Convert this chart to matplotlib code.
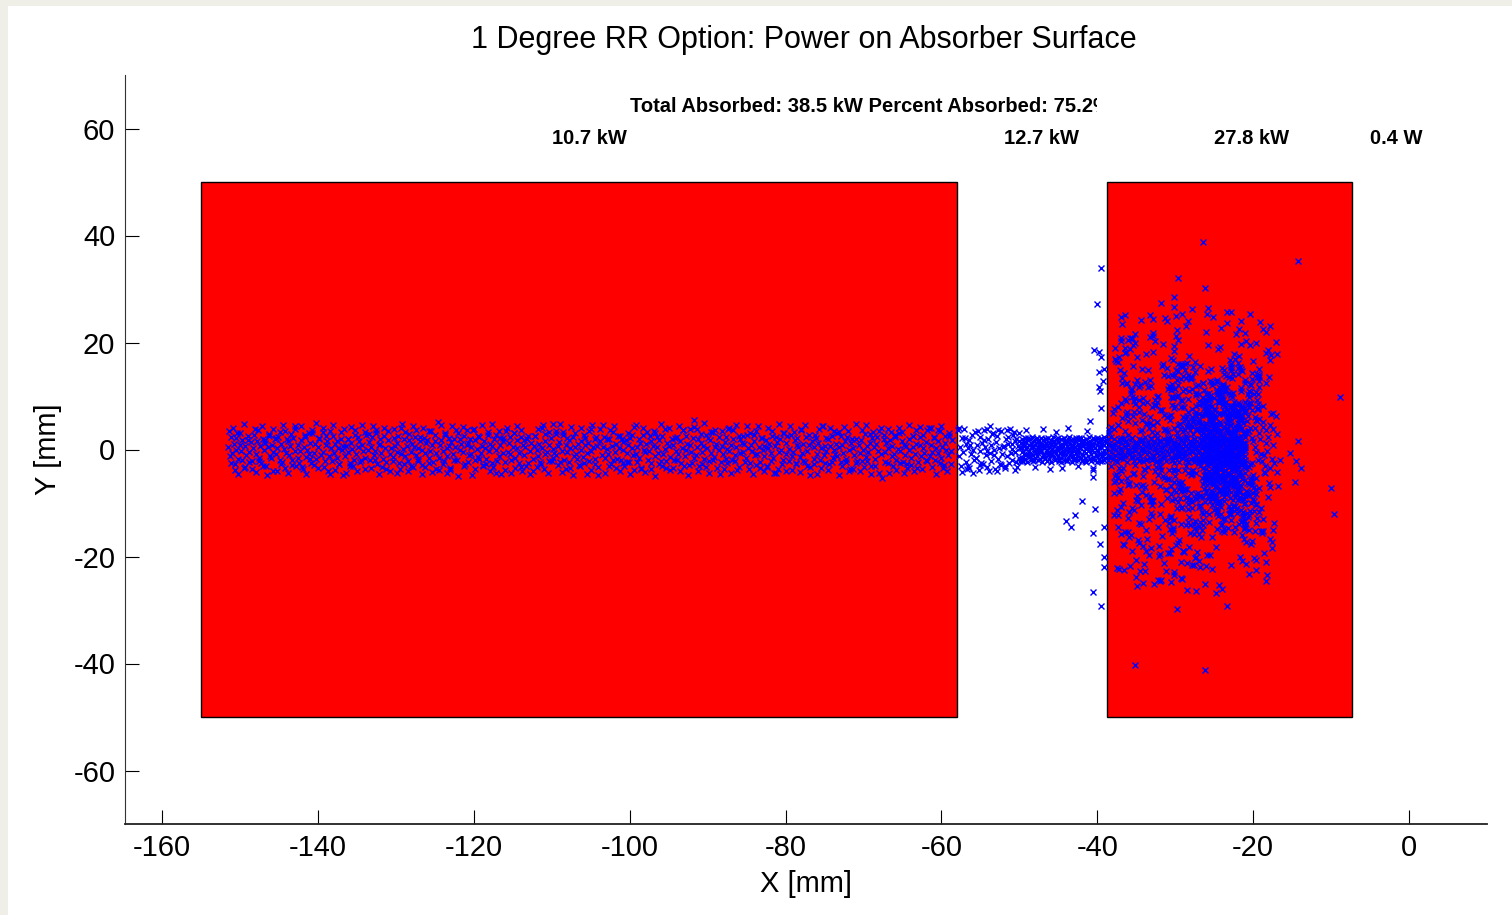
import matplotlib
matplotlib.use('Agg')
import matplotlib.pyplot as plt
from matplotlib.patches import Rectangle
from matplotlib.transforms import Bbox, TransformedBbox

plt.rcParams['font.family'] = ['Liberation Sans', 'DejaVu Sans']
plt.rcParams['axes.unicode_minus'] = False

# absorber faces (x0, x1, y0, y1) in mm
faces = [(-155.0, -58.0, -50.0, 50.0), (-38.8, -7.3, -50.0, 50.0)]

title = "1 Degree RR Option: Power on Absorber Surface"
total_text = "Total Absorbed: 38.5 kW Percent Absorbed: 75.2%"
power_labels = ["10.7 kW", "12.7 kW", "27.8 kW", "0.4 W"]
power_label_x = [-110.0, -52.0, -25.0, -5.0]

x_ticks = [-160, -140, -120, -100, -80, -60, -40, -20, 0]
y_ticks = [-60, -40, -20, 0, 20, 40, 60]

# hit points on the first face (narrow band)
band_x = [
    -151.5,-151.3,-151.2,-151.0,-150.8,-150.7,-150.5,-150.4,-150.2,-150.0,-149.9,-149.7,-149.5,-149.4,-149.2,-149.0,-148.8,-148.6,
    -148.4,-148.3,-148.1,-147.9,-147.8,-147.6,-147.4,-147.3,-147.1,-146.9,-146.8,-146.6,-146.4,-146.3,-146.1,-145.9,-145.8,-145.7,
    -145.5,-145.4,-145.2,-145.1,-144.9,-144.7,-144.6,-144.4,-144.2,-144.1,-143.8,-143.7,-143.6,-143.3,-143.2,-143.0,-142.9,-142.6,
    -142.5,-142.3,-142.2,-142.0,-141.8,-141.7,-141.5,-141.4,-141.2,-141.0,-140.9,-140.7,-140.5,-140.4,-140.2,-140.0,-139.8,-139.6,
    -139.4,-139.3,-139.1,-138.9,-138.8,-138.6,-138.4,-138.3,-138.1,-137.9,-137.8,-137.6,-137.4,-137.3,-137.1,-136.9,-136.8,-136.7,
    -136.5,-136.4,-136.2,-136.1,-135.9,-135.7,-135.6,-135.4,-135.2,-135.1,-134.8,-134.7,-134.6,-134.3,-134.2,-134.0,-133.9,-133.6,
    -133.5,-133.3,-133.2,-133.0,-132.8,-132.7,-132.5,-132.4,-132.2,-132.0,-131.9,-131.7,-131.5,-131.4,-131.2,-131.0,-130.8,-130.6,
    -130.4,-130.3,-130.1,-129.9,-129.8,-129.6,-129.4,-129.3,-129.1,-128.9,-128.8,-128.6,-128.4,-128.3,-128.1,-127.9,-127.8,-127.7,
    -127.5,-127.4,-127.2,-127.1,-126.9,-126.7,-126.6,-126.4,-126.2,-126.1,-125.8,-125.7,-125.6,-125.3,-125.2,-125.0,-124.9,-124.6,
    -124.5,-124.3,-124.2,-124.0,-123.8,-123.7,-123.5,-123.4,-123.2,-123.0,-122.9,-122.7,-122.5,-122.4,-122.2,-122.0,-121.8,-121.6,
    -121.4,-121.3,-121.1,-120.9,-120.8,-120.6,-120.4,-120.3,-120.1,-119.9,-119.8,-119.6,-119.4,-119.3,-119.1,-118.9,-118.8,-118.7,
    -118.5,-118.4,-118.2,-118.1,-117.9,-117.7,-117.6,-117.4,-117.2,-117.1,-116.8,-116.7,-116.6,-116.3,-116.2,-116.0,-115.9,-115.6,
    -115.5,-115.3,-115.2,-115.0,-114.8,-114.7,-114.5,-114.4,-114.2,-114.0,-113.9,-113.7,-113.5,-113.4,-113.2,-113.0,-112.8,-112.6,
    -112.4,-112.3,-112.1,-111.9,-111.8,-111.6,-111.4,-111.3,-111.1,-110.9,-110.8,-110.6,-110.4,-110.3,-110.1,-109.9,-109.8,-109.7,
    -109.5,-109.4,-109.2,-109.1,-108.9,-108.7,-108.6,-108.4,-108.2,-108.1,-107.8,-107.7,-107.6,-107.3,-107.2,-107.0,-106.9,-106.6,
    -106.5,-106.3,-106.2,-106.0,-105.8,-105.7,-105.5,-105.4,-105.2,-105.0,-104.9,-104.7,-104.5,-104.4,-104.2,-104.0,-103.8,-103.6,
    -103.4,-103.3,-103.1,-102.9,-102.8,-102.6,-102.4,-102.3,-102.1,-101.9,-101.8,-101.6,-101.4,-101.3,-101.1,-100.9,-100.8,-100.7,
    -100.5,-100.4,-100.2,-100.1,-99.9,-99.7,-99.6,-99.4,-99.2,-99.1,-98.8,-98.7,-98.6,-98.3,-98.2,-98.0,-97.9,-97.6,
    -97.5,-97.3,-97.2,-97.0,-96.8,-96.7,-96.5,-96.4,-96.2,-96.0,-95.9,-95.7,-95.5,-95.4,-95.2,-95.0,-94.8,-94.6,
    -94.4,-94.3,-94.1,-93.9,-93.8,-93.6,-93.4,-93.3,-93.1,-92.9,-92.8,-92.6,-92.4,-92.3,-92.1,-91.9,-91.8,-91.7,
    -91.5,-91.4,-91.2,-91.1,-90.9,-90.7,-90.6,-90.4,-90.2,-90.1,-89.8,-89.7,-89.6,-89.3,-89.2,-89.0,-88.9,-88.6,
    -88.5,-88.3,-88.2,-88.0,-87.8,-87.7,-87.5,-87.4,-87.2,-87.0,-86.9,-86.7,-86.5,-86.4,-86.2,-86.0,-85.8,-85.6,
    -85.4,-85.3,-85.1,-84.9,-84.8,-84.6,-84.4,-84.3,-84.1,-83.9,-83.8,-83.6,-83.4,-83.3,-83.1,-82.9,-82.8,-82.7,
    -82.5,-82.4,-82.2,-82.1,-81.9,-81.7,-81.6,-81.4,-81.2,-81.1,-80.8,-80.7,-80.6,-80.3,-80.2,-80.0,-79.9,-79.6,
    -79.5,-79.3,-79.2,-79.0,-78.8,-78.7,-78.5,-78.4,-78.2,-78.0,-77.9,-77.7,-77.5,-77.4,-77.2,-77.0,-76.8,-76.6,
    -76.4,-76.3,-76.1,-75.9,-75.8,-75.6,-75.4,-75.3,-75.1,-74.9,-74.8,-74.6,-74.4,-74.3,-74.1,-73.9,-73.8,-73.7,
    -73.5,-73.4,-73.2,-73.1,-72.9,-72.7,-72.6,-72.4,-72.2,-72.1,-71.8,-71.7,-71.6,-71.3,-71.2,-71.0,-70.9,-70.6,
    -70.5,-70.3,-70.2,-70.0,-69.8,-69.7,-69.5,-69.4,-69.2,-69.0,-68.9,-68.7,-68.5,-68.4,-68.2,-68.0,-67.8,-67.6,
    -67.4,-67.3,-67.1,-66.9,-66.8,-66.6,-66.4,-66.3,-66.1,-65.9,-65.8,-65.6,-65.4,-65.3,-65.1,-64.9,-64.8,-64.7,
    -64.5,-64.4,-64.2,-64.1,-63.9,-63.7,-63.6,-63.4,-63.2,-63.1,-62.8,-62.7,-62.6,-62.3,-62.2,-62.0,-61.9,-61.6,
    -61.5,-61.3,-61.2,-61.0,-60.8,-60.7,-60.5,-60.4,-60.2,-60.0,-59.9,-59.7,-59.5,-59.4,-59.2,-59.0,-58.8,-58.6,
]
band_y = [
    0.4,-1.2,2.3,-0.6,1.1,-2.8,0.0,3.1,-1.7,0.9,-0.2,1.8,-3.4,0.6,-1.0,2.6,-0.4,1.4,
    -2.1,0.2,3.8,-0.9,1.6,-1.5,0.7,-2.6,2.0,-0.1,1.2,-3.0,0.5,2.9,-1.3,0.8,-0.5,-4.1,
    1.9,-0.8,0.3,2.4,-1.9,1.0,-2.3,0.1,3.5,-0.7,1.5,-1.1,0.6,-2.9,2.2,-0.3,4.3,-1.6,
    0.9,-0.2,1.7,-3.3,0.4,2.7,-1.4,0.0,-0.9,1.3,-2.5,3.0,-0.6,1.1,-1.8,0.5,2.1,-1.0,
    -0.4,3.3,-2.2,0.8,1.5,-1.2,-4.6,0.2,2.5,-0.7,1.0,-1.6,0.3,-2.7,1.9,-0.1,0.7,3.9,
    -1.3,0.6,2.0,-0.5,-3.1,1.2,0.1,-1.9,2.8,-0.8,0.4,1.6,-2.4,0.9,-0.3,3.2,-1.5,0.0,
    1.4,-2.0,0.5,2.3,-1.1,-0.2,3.6,-2.8,0.8,1.1,-0.6,-1.7,2.6,0.3,-3.6,1.8,-0.9,0.2,
    -1.4,2.2,0.7,-0.4,1.3,-2.6,4.0,-0.8,0.1,1.9,-1.2,0.6,-2.1,2.9,-0.5,1.0,-3.2,0.4,
    2.4,-1.0,0.3,-1.8,1.6,0.0,-2.9,2.1,-0.6,1.2,-1.5,3.4,-0.2,0.9,-2.4,1.5,-0.7,5.1,
    -1.6,0.8,1.7,-0.3,-2.2,2.7,0.2,-1.3,0.6,-3.8,1.4,-0.9,2.0,0.5,-1.9,3.1,-0.1,1.1,
    -0.5,2.5,-2.7,0.9,1.3,-1.1,0.4,-0.8,3.7,-2.0,1.8,0.1,-1.4,2.3,-0.6,0.7,-3.0,1.6,
    0.3,-1.7,2.8,-0.2,1.0,-2.5,0.6,1.9,-4.4,0.0,-1.2,2.2,0.8,-0.7,1.5,-2.3,3.5,-0.4,
    1.2,-0.9,-2.0,0.5,3.0,-1.5,0.2,1.7,-0.6,-3.3,2.4,0.9,-1.0,0.4,2.0,-2.6,-0.3,1.3,
    -1.8,0.7,2.6,-0.1,-1.3,1.1,-2.8,0.3,4.6,-0.9,1.6,-0.4,0.8,-2.1,2.1,-1.6,0.1,-0.7,
    2.9,-1.1,0.6,1.4,-2.4,-0.2,3.3,-1.9,0.9,-0.5,1.8,-3.5,0.2,2.4,-1.2,0.5,-0.8,1.0,
    -2.9,1.5,0.0,-1.4,2.7,0.8,-0.6,1.2,-2.2,3.8,-0.3,0.4,-1.7,2.0,0.7,-4.8,1.6,-1.0,
    0.5,2.3,-1.5,0.1,-0.9,1.9,-2.7,0.6,3.2,-0.4,1.1,-1.8,0.3,2.6,-2.0,-0.1,1.4,-3.1,
    1.7,-0.6,0.9,-2.3,2.2,0.2,-1.1,4.2,-0.8,0.5,-1.6,1.3,-3.7,2.8,0.0,-0.5,1.0,-1.9,
    -0.2,1.6,-2.6,0.7,3.1,-1.3,0.4,-0.7,1.8,-2.1,2.5,-0.9,0.1,-3.4,1.2,0.6,-1.4,2.0,
    0.8,-1.9,-0.3,2.4,-0.8,1.5,-2.5,0.3,3.6,-1.2,0.0,1.1,-2.9,0.9,-0.4,2.1,-1.6,5.6,
    -1.0,0.4,2.0,-3.0,1.3,-0.5,0.7,-1.8,2.7,0.2,-2.2,1.7,-0.6,3.3,-1.4,0.5,1.0,-0.1,
    2.3,-2.4,0.6,-0.9,1.4,-1.7,0.1,3.9,-0.3,0.8,-2.0,1.9,-1.1,0.4,-3.9,2.6,-0.7,1.2,
    -0.4,1.0,-1.5,2.8,0.3,-2.6,0.9,-0.2,1.6,-1.0,3.4,-0.8,0.5,-2.3,2.2,-0.1,-1.3,0.7,
    1.8,-3.2,0.2,1.1,-0.7,2.5,-1.6,0.6,-4.3,1.4,-0.4,2.0,0.0,-1.9,3.0,-0.9,1.3,-2.1,
    0.1,2.7,-1.2,-0.5,1.7,-2.8,0.8,0.4,-1.4,3.7,-0.6,1.0,-2.4,2.3,-0.2,0.9,-3.3,1.5,
    -1.7,0.5,2.1,-0.8,1.2,-2.0,0.2,4.4,-1.1,0.7,-0.3,1.9,-2.7,0.6,2.6,-1.5,0.0,-0.9,
    1.1,-1.3,0.4,3.2,-2.3,0.9,-0.6,1.6,-1.8,2.4,-0.1,-3.6,1.3,0.3,-1.0,2.0,-2.5,0.8,
    -0.7,1.8,-2.2,0.0,2.9,-1.4,0.6,-0.4,1.2,-3.1,2.2,0.5,-1.7,1.0,-0.2,3.5,-0.9,-5.3,
    2.0,-0.5,1.3,-2.6,0.3,1.7,-1.2,0.7,-0.8,2.8,-1.9,0.1,3.0,-0.3,1.5,-2.4,0.9,-1.1,
    0.6,-2.8,1.9,-0.1,-1.5,2.6,0.4,-0.9,1.1,-3.5,0.8,2.3,-1.3,0.2,-0.6,1.4,-2.1,4.1,
    -1.2,0.9,-0.4,2.2,-2.0,0.3,1.6,-0.7,3.4,-1.6,0.5,-2.9,1.2,0.0,-1.0,2.5,-0.3,1.7,
]

# outer fringe of the same band
band_edge_x = [
    -151.4,-151.2,-150.9,-150.7,-150.5,-150.2,-150.0,-149.8,-149.5,-149.3,-149.0,-148.8,
    -148.4,-148.2,-147.9,-147.7,-147.5,-147.2,-147.0,-146.8,-146.5,-146.3,-146.0,-145.8,
    -145.4,-145.2,-144.9,-144.7,-144.5,-144.2,-144.0,-143.8,-143.5,-143.3,-143.0,-142.8,
    -142.4,-142.2,-141.9,-141.7,-141.5,-141.2,-141.0,-140.8,-140.5,-140.3,-140.0,-139.8,
    -139.4,-139.2,-138.9,-138.7,-138.5,-138.2,-138.0,-137.8,-137.5,-137.3,-137.0,-136.8,
    -136.4,-136.2,-135.9,-135.7,-135.5,-135.2,-135.0,-134.8,-134.5,-134.3,-134.0,-133.8,
    -133.4,-133.2,-132.9,-132.7,-132.5,-132.2,-132.0,-131.8,-131.5,-131.3,-131.0,-130.8,
    -130.4,-130.2,-129.9,-129.7,-129.5,-129.2,-129.0,-128.8,-128.5,-128.3,-128.0,-127.8,
    -127.4,-127.2,-126.9,-126.7,-126.5,-126.2,-126.0,-125.8,-125.5,-125.3,-125.0,-124.8,
    -124.4,-124.2,-123.9,-123.7,-123.5,-123.2,-123.0,-122.8,-122.5,-122.3,-122.0,-121.8,
    -121.4,-121.2,-120.9,-120.7,-120.5,-120.2,-120.0,-119.8,-119.5,-119.3,-119.0,-118.8,
    -118.4,-118.2,-117.9,-117.7,-117.5,-117.2,-117.0,-116.8,-116.5,-116.3,-116.0,-115.8,
    -115.4,-115.2,-114.9,-114.7,-114.5,-114.2,-114.0,-113.8,-113.5,-113.3,-113.0,-112.8,
    -112.4,-112.2,-111.9,-111.7,-111.5,-111.2,-111.0,-110.8,-110.5,-110.3,-110.0,-109.8,
    -109.4,-109.2,-108.9,-108.7,-108.5,-108.2,-108.0,-107.8,-107.5,-107.3,-107.0,-106.8,
    -106.4,-106.2,-105.9,-105.7,-105.5,-105.2,-105.0,-104.8,-104.5,-104.3,-104.0,-103.8,
    -103.4,-103.2,-102.9,-102.7,-102.5,-102.2,-102.0,-101.8,-101.5,-101.3,-101.0,-100.8,
    -100.4,-100.2,-99.9,-99.7,-99.5,-99.2,-99.0,-98.8,-98.5,-98.3,-98.0,-97.8,
    -97.4,-97.2,-96.9,-96.7,-96.5,-96.2,-96.0,-95.8,-95.5,-95.3,-95.0,-94.8,
    -94.4,-94.2,-93.9,-93.7,-93.5,-93.2,-93.0,-92.8,-92.5,-92.3,-92.0,-91.8,
    -91.4,-91.2,-90.9,-90.7,-90.5,-90.2,-90.0,-89.8,-89.5,-89.3,-89.0,-88.8,
    -88.4,-88.2,-87.9,-87.7,-87.5,-87.2,-87.0,-86.8,-86.5,-86.3,-86.0,-85.8,
    -85.4,-85.2,-84.9,-84.7,-84.5,-84.2,-84.0,-83.8,-83.5,-83.3,-83.0,-82.8,
    -82.4,-82.2,-81.9,-81.7,-81.5,-81.2,-81.0,-80.8,-80.5,-80.3,-80.0,-79.8,
    -79.4,-79.2,-78.9,-78.7,-78.5,-78.2,-78.0,-77.8,-77.5,-77.3,-77.0,-76.8,
    -76.4,-76.2,-75.9,-75.7,-75.5,-75.2,-75.0,-74.8,-74.5,-74.3,-74.0,-73.8,
    -73.4,-73.2,-72.9,-72.7,-72.5,-72.2,-72.0,-71.8,-71.5,-71.3,-71.0,-70.8,
    -70.4,-70.2,-69.9,-69.7,-69.5,-69.2,-69.0,-68.8,-68.5,-68.3,-68.0,-67.8,
    -67.4,-67.2,-66.9,-66.7,-66.5,-66.2,-66.0,-65.8,-65.5,-65.3,-65.0,-64.8,
    -64.4,-64.2,-63.9,-63.7,-63.5,-63.2,-63.0,-62.8,-62.5,-62.3,-62.0,-61.8,
    -61.4,-61.2,-60.9,-60.7,-60.5,-60.2,-60.0,-59.8,-59.5,-59.3,-59.0,-58.8,
]
band_edge_y = [
    3.4,-2.6,4.1,-3.9,2.2,-4.5,3.0,-1.9,4.7,-3.2,1.7,-2.4,
    -3.6,2.8,-4.2,3.7,-2.1,4.4,-3.0,1.8,-4.8,2.5,-1.6,3.9,
    2.1,-4.0,3.3,-2.7,4.6,-3.4,1.9,-4.4,2.9,-2.0,3.8,-3.1,
    -2.5,4.3,-3.7,2.4,-4.6,3.1,-1.8,3.6,-2.9,4.9,-3.5,2.0,
    4.0,-3.3,2.6,-4.1,3.5,-2.2,4.5,-3.8,1.6,-2.8,3.2,-4.7,
    -4.3,1.9,-2.5,4.2,-3.1,3.6,-4.0,2.3,-1.9,4.6,-3.6,2.7,
    2.9,-3.5,4.4,-2.0,3.1,-4.6,2.0,-3.3,4.0,-2.4,3.5,-4.1,
    -2.2,3.8,-4.4,2.6,-3.6,4.7,-2.8,3.3,-4.0,1.8,-3.0,4.3,
    3.7,-2.1,2.4,-4.5,4.1,-3.2,1.7,-2.6,3.4,-4.2,2.8,-3.7,
    -3.9,4.6,-2.7,3.0,-4.3,2.2,-3.4,4.3,-2.0,3.6,-4.9,1.9,
    4.2,-3.0,3.6,-2.3,2.0,-4.8,3.9,-3.6,2.5,-1.8,4.5,-2.9,
    -2.8,3.2,-4.0,4.8,-3.3,2.7,-2.2,3.5,-4.6,2.1,-3.8,4.0,
    2.3,-4.3,3.1,-3.5,4.4,-2.5,3.7,-4.0,1.8,-3.1,2.6,-4.5,
    -4.1,2.5,-3.2,3.9,-2.4,4.1,-3.7,2.9,-4.4,3.3,-2.1,4.7,
    3.5,-2.9,4.8,-4.2,2.7,-3.6,2.2,-2.3,4.2,-4.7,3.0,-1.7,
    -3.0,4.0,-2.6,2.1,-4.5,3.4,-3.9,4.6,-2.7,2.4,-3.3,3.8,
    4.6,-4.4,2.0,-3.1,3.7,-2.0,4.3,-3.5,2.6,-4.1,1.9,-2.6,
    -2.4,3.1,-4.6,2.8,-3.8,4.5,-2.3,2.0,-3.4,4.1,-4.2,3.3,
    2.6,-3.7,3.4,-4.9,2.3,-2.7,4.7,-3.0,3.8,-2.2,4.0,-3.9,
    -3.5,2.2,-2.0,4.4,-4.0,3.6,-3.1,2.5,-4.7,3.9,-2.5,4.2,
    3.9,-4.1,2.9,-2.8,4.9,-3.3,2.1,-4.4,3.2,-1.9,3.6,-3.4,
    -4.6,3.5,-3.6,2.3,-2.6,4.0,-4.3,3.7,-2.1,4.5,-3.2,2.0,
    2.5,-2.4,4.3,-3.7,3.0,-4.6,2.7,-2.9,4.4,-3.5,2.2,-4.0,
    -3.1,4.1,-2.2,3.4,-4.4,2.4,-3.6,4.8,-2.8,3.1,-4.1,2.6,
    4.4,-3.8,3.2,-2.5,2.1,-4.2,3.9,-2.1,4.6,-3.0,2.8,-4.8,
    -2.7,2.7,-4.5,3.8,-3.4,4.3,-2.5,2.2,-3.9,4.0,-2.3,3.4,
    3.1,-4.7,2.6,-3.0,4.2,-2.3,3.5,-4.1,2.0,-3.6,4.7,-2.2,
    -4.0,3.6,-3.3,4.6,-2.2,2.9,-4.5,3.2,-3.0,2.3,-4.3,4.1,
    2.8,-2.3,3.8,-4.3,3.3,-3.1,2.4,-3.8,4.1,-2.6,3.3,-4.4,
    -3.4,4.5,-2.9,2.6,-4.1,3.7,-2.4,4.2,-3.7,2.7,-2.0,3.6,
    4.1,-3.2,2.3,-4.6,3.6,-2.6,4.4,-3.4,2.5,-4.0,3.1,-2.7,
]

# loose part of the beam between the faces
gap_loose_x = [
    -57.9,-57.8,-57.6,-57.5,-57.3,-57.2,-57.1,-56.9,-56.8,-56.6,
    -56.5,-56.4,-56.2,-56.1,-55.9,-55.8,-55.7,-55.5,-55.4,-55.2,
    -55.1,-55.0,-54.8,-54.7,-54.5,-54.4,-54.3,-54.1,-54.0,-53.8,
    -53.7,-53.6,-53.4,-53.3,-53.1,-53.0,-52.9,-52.7,-52.6,-52.4,
    -52.3,-52.2,-52.0,-51.9,-51.7,-51.6,-51.5,-51.3,-51.2,-51.0,
    -50.9,-50.8,-50.6,-50.5,-50.3,-50.2,-50.1,-49.9,-49.8,-57.4,
    -57.0,-56.7,-56.3,-55.6,-55.3,-54.9,-54.6,-54.2,-53.9,-53.5,
    -53.2,-52.8,-52.5,-52.1,-51.8,-51.4,-51.1,-50.7,-50.4,-50.0,
    -57.7,-56.0,-54.2,-52.9,-51.6,-50.6,-55.0,-53.8,-56.6,-49.9,
]
gap_loose_y = [
    3.6,-1.2,0.4,-3.1,2.1,-0.5,3.9,1.0,-2.4,0.2,
    -3.5,1.7,-0.8,2.8,0.0,-2.0,3.3,-1.5,0.9,-3.8,
    2.4,-0.3,1.2,-2.7,3.7,0.5,-1.0,-3.3,1.9,-0.6,
    0.8,-2.2,3.1,-0.1,-3.6,1.4,2.6,-1.7,0.3,-2.9,
    3.4,-0.9,0.6,-3.0,2.0,-1.3,1.1,-2.5,3.8,0.1,
    -1.9,2.7,-0.4,1.5,-3.2,0.7,3.0,-2.1,1.3,-4.2,
    2.2,-3.7,0.9,-1.6,3.5,-2.6,1.8,-0.2,-4.0,2.9,
    -1.1,3.6,-2.8,0.4,-3.4,2.3,-0.7,3.2,-2.3,1.6,
    4.1,-4.4,3.8,-4.1,3.6,-3.9,-2.9,4.3,-3.1,0.5,
]

# dense part of the beam just before the second face
gap_dense_x = [
    -49.7,-49.7,-49.6,-49.6,-49.5,-49.5,-49.4,-49.4,-49.3,-49.3,-49.2,-49.1,-49.1,-49.0,-49.0,-48.9,-48.8,-48.8,-48.7,-48.6,
    -48.6,-48.5,-48.5,-48.4,-48.4,-48.3,-48.3,-48.2,-48.1,-48.1,-48.0,-48.0,-47.9,-47.9,-47.8,-47.7,-47.7,-47.6,-47.6,-47.5,
    -47.5,-47.4,-47.4,-47.3,-47.2,-47.2,-47.1,-47.1,-47.0,-47.0,-46.9,-46.8,-46.8,-46.7,-46.7,-46.6,-46.6,-46.5,-46.4,-46.4,
    -46.3,-46.3,-46.2,-46.2,-46.1,-46.0,-46.0,-45.9,-45.9,-45.8,-45.8,-45.7,-45.6,-45.6,-45.5,-45.5,-45.4,-45.4,-45.3,-45.2,
    -45.2,-45.1,-45.1,-45.0,-45.0,-44.9,-44.8,-44.8,-44.7,-44.7,-44.6,-44.6,-44.5,-44.4,-44.4,-44.3,-44.3,-44.2,-44.2,-44.1,
    -44.0,-44.0,-43.9,-43.9,-43.8,-43.8,-43.7,-43.6,-43.6,-43.5,-43.5,-43.4,-43.4,-43.3,-43.2,-43.2,-43.1,-43.1,-43.0,-43.0,
    -42.9,-42.8,-42.8,-42.7,-42.7,-42.6,-42.6,-42.5,-42.4,-42.4,-42.3,-42.3,-42.2,-42.2,-42.1,-42.0,-42.0,-41.9,-41.9,-41.8,
    -41.8,-41.7,-41.6,-41.6,-41.5,-41.5,-41.4,-41.4,-41.3,-41.2,-41.2,-41.1,-41.1,-41.0,-41.0,-40.9,-40.8,-40.8,-40.7,-40.7,
    -40.6,-40.6,-40.5,-40.4,-40.4,-40.3,-40.3,-40.2,-40.2,-40.1,-40.0,-40.0,-39.9,-39.9,-39.8,-39.8,-39.7,-39.6,-39.6,-39.5,
    -39.5,-39.4,-39.4,-39.3,-39.2,-39.2,-39.1,-39.1,-39.0,-39.0,-49.2,-48.0,-47.0,-46.1,-45.3,-44.5,-43.7,-42.5,-41.3,-40.5,
]
gap_dense_y = [
    0.3,-1.5,1.9,-0.4,1.1,-2.1,0.7,-0.9,2.2,-1.8,0.1,1.4,-1.1,0.5,-2.3,1.7,-0.2,0.9,-1.4,2.0,
    -0.6,1.2,-1.9,0.2,2.3,-1.0,0.6,-2.2,1.5,-0.3,0.8,-1.6,1.9,-0.7,0.0,2.1,-1.3,0.4,-2.0,1.0,
    1.6,-0.5,0.3,-1.7,2.2,-0.1,1.0,-2.4,0.6,1.8,-1.2,0.2,-0.8,2.0,-1.5,0.7,1.3,-2.1,0.0,-0.6,
    -1.0,2.1,0.4,-1.8,1.2,-0.3,-2.3,0.8,1.7,-0.9,0.1,2.3,-1.4,0.6,-0.2,1.5,-2.0,1.0,-0.7,0.3,
    2.0,-1.3,0.5,-0.1,1.4,-2.2,0.9,-0.6,1.9,-1.6,0.2,-2.4,1.1,0.7,-1.0,2.2,-0.4,1.6,-1.9,0.0,
    -0.8,1.3,-2.1,0.6,1.9,-0.2,-1.5,2.3,0.3,-1.1,1.0,-0.5,1.7,-2.3,0.4,0.9,-1.7,2.0,-0.3,1.2,
    0.5,-1.9,1.5,-0.6,2.2,-1.2,0.1,-2.0,1.1,0.7,-0.4,1.8,-1.5,0.2,2.1,-0.8,-2.2,1.4,0.6,-1.0,
    1.8,-0.2,-1.6,1.0,0.3,-2.3,2.0,-0.7,1.3,-1.3,0.8,-0.1,2.3,-1.8,0.4,1.6,-0.9,-2.1,1.1,0.0,
    -1.4,0.7,2.1,-0.5,1.2,-1.9,0.2,1.7,-1.0,-2.4,0.9,2.2,-0.3,1.4,-1.7,0.5,-0.8,2.0,-2.2,1.0,
    0.4,-1.2,1.9,-0.6,2.3,-2.0,0.8,-0.1,1.5,-1.6,3.6,-3.3,3.9,-3.7,3.2,-3.5,4.1,-3.0,3.4,-3.9,
]

# extra hits in the narrow core from the gap to the spot
core_band_x = [
    -50.9,-50.6,-50.4,-50.1,-49.9,-49.6,-49.4,-49.1,-48.9,-48.6,-48.4,-48.1,-47.9,-47.6,-47.4,-47.1,-46.9,-46.6,-46.4,-46.1,
    -45.9,-45.6,-45.4,-45.1,-44.9,-44.6,-44.4,-44.1,-43.9,-43.6,-43.4,-43.1,-42.9,-42.6,-42.4,-42.1,-41.9,-41.6,-41.4,-41.1,
    -40.9,-40.6,-40.4,-40.1,-39.9,-39.6,-39.4,-39.1,-38.9,-38.6,-38.4,-38.1,-37.9,-37.6,-37.4,-37.1,-36.9,-36.6,-36.4,-36.1,
    -35.9,-35.6,-35.4,-35.1,-34.9,-34.6,-34.4,-34.1,-33.9,-33.6,-33.4,-33.1,-32.9,-32.6,-32.4,-32.1,-31.9,-31.6,-31.4,-31.1,
    -30.9,-30.6,-30.4,-30.1,-29.9,-29.6,-29.4,-29.1,-28.9,-28.6,-28.4,-28.1,-27.9,-27.6,-27.4,-27.1,-26.9,-26.6,-26.4,-26.1,
    -25.9,-25.6,-25.4,-25.1,-24.9,-24.6,-24.4,-24.1,-23.9,-23.6,-23.4,-23.1,-22.9,-22.6,-22.4,-22.1,-21.9,-21.6,-21.4,-21.1,
]
core_band_y = [
    1.1,-0.5,1.9,-1.6,0.2,-2.1,1.4,-0.9,2.2,-1.2,0.6,-1.9,0.0,1.7,-0.3,-1.4,0.9,2.0,-2.2,0.4,
    -1.0,1.5,-0.2,2.1,-1.8,0.7,-0.7,1.2,-2.0,0.3,1.8,-1.3,0.5,-0.4,2.2,-1.6,1.0,-2.1,0.1,1.3,
    0.6,-1.7,2.0,-0.1,-1.1,1.6,-2.2,0.8,-0.6,1.9,-1.5,0.2,1.1,-2.0,0.4,-0.8,2.1,-1.2,1.4,-0.3,
    -0.9,2.2,-1.4,0.5,1.2,-2.1,0.0,1.7,-0.5,-1.8,0.9,2.0,-1.0,0.3,-2.2,1.5,-0.2,0.7,-1.6,1.8,
    1.6,-0.1,-2.0,1.0,0.4,-1.3,2.2,-0.7,1.3,-1.9,0.1,0.9,-0.4,2.0,-1.1,0.6,-2.1,1.7,-0.8,0.2,
    -1.5,0.8,1.4,-2.2,0.0,1.9,-0.6,-1.0,2.1,-1.7,0.5,1.2,-0.3,-1.4,1.6,-2.0,0.9,0.3,-0.9,1.1,
]

# scattered hits along the front edge of the second face
edge_x = [-39.5,-40.0,-40.4,-39.8,-39.5,-39.8,-39.2,-39.3,-39.8,-39.7,-39.5,-40.9,-40.5,-40.6,
          -42.0,-40.3,-42.8,-44.0,-43.4,-40.6,-39.2,-39.6,-39.2,-39.1,-40.6,-39.5]
edge_y = [33.9,27.2,18.6,18.3,17.3,14.5,15.0,12.8,11.7,11.0,7.8,5.3,-3.5,-5.1,
          -9.6,-11.1,-12.3,-13.3,-14.5,-15.6,-14.5,-17.7,-20.0,-21.9,-26.6,-29.3]

# horizontal core on the second face
face2_band_x = [
    -38.9,-38.8,-38.7,-38.6,-38.5,-38.4,-38.3,-38.2,-38.1,-38.0,-37.9,-37.8,-37.7,-37.6,-37.5,-37.4,-37.3,-37.2,-37.1,-37.0,
    -36.9,-36.8,-36.7,-36.6,-36.5,-36.4,-36.3,-36.2,-36.1,-36.0,-35.9,-35.8,-35.7,-35.6,-35.5,-35.4,-35.3,-35.2,-35.1,-35.0,
    -34.9,-34.8,-34.7,-34.6,-34.5,-34.4,-34.3,-34.2,-34.1,-34.0,-33.9,-33.8,-33.7,-33.6,-33.5,-33.4,-33.3,-33.2,-33.1,-33.0,
    -32.9,-32.8,-32.7,-32.6,-32.5,-32.4,-32.3,-32.2,-32.1,-32.0,-31.9,-31.8,-31.7,-31.6,-31.5,-31.4,-31.3,-31.2,-31.1,-31.0,
    -30.9,-30.8,-30.7,-30.6,-30.5,-30.4,-30.3,-30.2,-30.1,-30.0,-29.9,-29.8,-29.7,-29.6,-29.5,-29.4,-29.3,-29.2,-29.1,-29.0,
    -28.9,-28.8,-28.7,-28.6,-28.5,-28.4,-28.3,-28.2,-28.1,-28.0,-27.9,-27.8,-27.7,-27.6,-27.5,-27.4,-27.3,-27.2,-27.1,-27.0,
    -26.9,-26.8,-26.7,-26.6,-26.5,-26.4,-26.3,-26.2,-26.1,-26.0,-25.9,-25.8,-25.7,-25.6,-25.5,-25.4,-25.3,-25.2,-25.1,-25.0,
    -24.9,-24.8,-24.7,-24.6,-24.5,-24.4,-24.3,-24.2,-24.1,-24.0,-23.9,-23.8,-23.7,-23.6,-23.5,-23.4,-23.3,-23.2,-23.1,-23.0,
    -22.9,-22.8,-22.7,-22.6,-22.5,-22.4,-22.3,-22.2,-22.1,-22.0,-21.9,-21.8,-21.7,-21.6,-21.5,-21.4,-21.3,-21.2,-21.1,-21.0,
    -38.5,-37.2,-36.0,-35.1,-34.3,-33.5,-32.6,-31.8,-30.9,-30.2,-29.4,-28.6,-27.7,-26.5,-25.4,-24.6,-23.5,-22.3,-21.2,-20.4,
]
face2_band_y = [
    -0.7,1.6,0.2,-2.0,1.1,-1.3,2.3,-0.4,0.8,-1.8,0.5,2.0,-1.1,0.0,-2.3,1.4,-0.6,1.9,-1.5,0.3,
    1.2,-0.2,-1.7,2.2,0.6,-1.0,1.5,-2.4,0.1,0.9,-0.8,1.8,-1.4,2.1,-0.5,0.4,-2.1,1.3,-0.3,0.7,
    -1.6,0.9,2.0,-0.6,-1.2,1.7,0.3,-2.2,1.0,-0.1,2.3,-1.9,0.6,-0.9,1.4,-0.4,0.2,-1.5,2.1,-2.0,
    0.8,-1.4,1.3,0.0,-2.3,2.2,-0.7,1.0,-1.1,0.5,-1.8,1.6,0.2,-0.5,2.0,-1.3,0.9,-2.1,1.2,-0.2,
    2.1,-0.9,0.4,-1.6,1.8,-0.3,-2.0,0.7,1.4,-1.2,0.1,2.3,-0.6,1.1,-2.4,0.5,1.7,-0.8,-1.5,0.3,
    -0.4,1.9,-1.3,0.6,2.2,-2.1,0.2,-0.7,1.5,-1.7,0.9,-0.1,1.2,-2.3,2.0,-1.0,0.4,1.6,-0.5,-1.9,
    1.0,-2.2,0.3,1.7,-0.8,2.1,-1.5,0.0,-0.4,1.3,-1.9,0.6,2.3,-1.1,0.8,-0.2,-2.0,1.5,0.2,-1.4,
    -1.2,0.5,2.2,-0.3,1.1,-1.8,0.7,-2.4,1.9,-0.6,0.1,1.4,-1.0,2.0,-1.6,0.4,-0.1,1.8,-2.2,0.9,
    0.6,-1.6,1.5,-0.5,-2.1,2.0,0.2,-1.0,1.2,-0.2,2.3,-1.4,0.8,-0.8,1.7,-2.3,0.0,1.0,-1.2,0.5,
    3.1,-3.4,2.8,-2.9,3.6,-3.2,2.7,-3.8,3.3,-2.6,3.9,-3.0,2.9,-3.5,3.4,-2.8,3.7,-3.1,3.0,-2.7,
]

# elongated spot core on the second face
core_x = [
    -24.3,-26.1,-22.7,-25.4,-23.1,-27.2,-21.8,-24.9,-26.6,-22.2,-25.8,-23.6,-21.3,-27.7,-24.0,-22.9,-26.3,-25.0,-23.4,-21.6,
    -25.6,-22.4,-24.7,-27.0,-23.3,-21.1,-26.8,-24.4,-22.0,-25.2,-23.8,-27.5,-21.9,-24.1,-26.0,-22.6,-25.5,-23.0,-28.1,-24.6,
    -23.5,-26.4,-21.4,-25.1,-22.8,-27.3,-24.2,-21.7,-25.9,-23.2,-26.9,-22.3,-24.8,-20.9,-25.3,-23.7,-27.8,-22.1,-24.5,-26.2,
    -22.5,-25.7,-24.0,-21.2,-26.5,-23.9,-27.1,-22.9,-24.6,-20.7,-25.0,-23.4,-26.7,-21.5,-24.3,-22.2,-25.6,-28.3,-23.6,-21.0,
    -24.8,-21.9,-26.0,-23.0,-25.3,-22.6,-27.4,-24.1,-21.3,-25.9,-23.8,-22.0,-26.6,-24.5,-21.7,-25.1,-23.3,-27.9,-22.7,-24.9,
    -26.3,-23.1,-21.6,-25.5,-24.2,-22.4,-27.0,-23.7,-20.8,-25.8,-24.7,-22.1,-26.1,-23.5,-21.4,-25.2,-24.0,-22.8,-27.6,-23.9,
    -23.2,-25.4,-22.0,-24.6,-26.8,-21.8,-24.3,-23.0,-25.7,-22.5,-27.2,-24.0,-21.1,-25.0,-23.6,-26.4,-22.3,-24.8,-21.5,-25.9,
    -24.4,-22.9,-26.2,-23.4,-21.7,-25.6,-24.1,-22.6,-27.5,-23.8,-21.2,-25.3,-24.7,-22.2,-26.5,-23.1,-21.9,-25.0,-24.5,-22.8,
    -25.1,-23.5,-21.4,-24.9,-26.7,-22.7,-24.2,-23.3,-25.8,-21.0,-26.0,-24.6,-22.4,-25.4,-23.9,-21.6,-27.3,-24.0,-22.1,-25.7,
    -23.7,-26.1,-22.5,-24.3,-25.5,-21.8,-23.0,-27.0,-24.8,-22.0,-25.2,-23.6,-26.6,-21.3,-24.5,-22.9,-25.9,-23.2,-21.7,-24.1,
    -22.3,-24.7,-26.4,-23.4,-21.1,-25.0,-24.0,-22.6,-27.1,-23.8,-25.6,-21.5,-24.4,-22.8,-26.2,-23.1,-24.9,-21.9,-25.3,-23.5,
    -24.6,-22.1,-25.7,-23.3,-26.9,-21.6,-24.2,-23.9,-22.4,-25.1,-27.4,-23.0,-21.2,-24.8,-26.0,-22.7,-25.4,-23.7,-21.8,-24.3,
    -25.9,-23.6,-22.2,-24.5,-21.4,-26.3,-23.2,-25.2,-22.9,-24.0,-27.7,-21.7,-25.5,-23.4,-22.5,-24.7,-26.6,-21.0,-23.8,-25.0,
]
core_y = [
    3.2,-5.7,8.1,-1.4,10.6,-9.3,0.6,-3.8,6.4,-11.2,2.1,-7.0,4.9,-0.3,9.4,-4.6,1.5,-8.5,7.3,-2.5,
    -6.2,1.9,-10.1,5.5,-0.8,8.8,-3.1,11.7,-7.6,0.2,4.2,-9.0,6.9,-1.9,2.8,-5.0,10.0,-11.9,3.6,-0.9,
    7.7,-2.2,0.9,-8.0,4.5,-4.3,11.0,-6.7,2.5,-0.5,9.1,-10.5,5.8,-3.5,1.2,-7.3,6.1,-1.1,-12.4,3.9,
    -3.0,9.7,-5.4,0.4,-8.9,6.6,-1.6,3.1,-11.5,8.3,-0.1,-6.0,4.7,10.9,-2.8,1.7,-9.6,5.2,-4.1,0.0,
    5.0,-7.8,2.3,-0.6,12.1,-3.3,7.0,-10.8,1.0,-5.2,8.6,-1.3,3.4,-9.8,6.2,-0.4,-6.5,11.3,-2.0,4.0,
    -1.8,6.8,-9.2,3.0,-4.8,0.8,10.4,-7.2,5.3,-2.4,1.4,-11.0,8.0,-0.7,-5.6,2.6,9.9,-3.9,0.3,-8.2,
    2.0,-4.4,7.4,-0.2,-10.3,5.7,-2.7,1.1,9.0,-6.4,3.7,-1.0,-8.7,6.0,0.5,-12.0,4.4,-3.4,11.5,-5.9,
    -7.5,0.1,4.3,-2.1,8.5,-5.1,1.6,-9.4,6.5,-0.9,2.9,-3.6,10.2,-6.9,0.7,5.9,-1.5,-11.4,3.3,7.8,
    0.9,-8.4,5.6,-3.2,1.8,-0.5,9.6,-6.1,3.8,-10.0,7.1,-1.7,2.4,-4.7,11.8,-2.6,0.2,-7.7,6.3,-4.0,
    -2.3,4.8,-6.6,10.7,-0.4,2.2,-9.1,6.7,-3.7,1.3,-5.3,8.2,-0.8,-12.6,3.5,-1.2,7.5,-4.5,0.6,9.3,
    6.0,-1.1,3.0,-7.1,0.4,-4.2,11.1,-2.9,5.1,-9.7,1.9,-0.2,8.7,-5.5,2.7,-10.6,4.6,-3.1,0.8,-6.3,
    -4.9,8.4,-0.6,2.0,-8.6,5.4,-2.2,12.3,-6.8,0.0,3.6,-11.1,7.2,-1.4,-3.7,9.8,1.5,-5.8,4.1,-0.3,
    1.3,-3.0,6.9,-9.9,4.0,-1.9,0.7,-6.0,10.3,-2.5,5.6,-7.9,2.3,-0.7,8.9,-4.3,-11.7,3.2,-1.2,6.4,
]

# inner, densest part of the spot
core_inner_x = [
    -24.1,-22.5,-25.6,-23.3,-21.7,-24.8,-26.2,-22.9,-23.8,-25.1,-21.4,-24.4,-22.2,-25.9,-23.0,-24.6,-21.9,-26.0,-23.6,-22.7,
    -25.3,-23.1,-21.6,-24.9,-22.4,-26.4,-23.7,-25.0,-21.2,-24.2,-22.8,-25.7,-23.4,-21.8,-24.7,-26.1,-22.0,-23.9,-25.4,-22.6,
    -23.5,-25.8,-22.3,-24.0,-26.3,-21.5,-24.5,-23.2,-25.5,-22.1,-24.3,-21.0,-25.2,-23.9,-22.6,-26.5,-24.1,-21.7,-23.3,-25.0,
    -22.9,-24.6,-21.3,-25.6,-23.6,-22.0,-24.9,-26.0,-23.0,-21.9,-25.3,-24.2,-22.4,-23.8,-25.9,-21.4,-24.4,-22.8,-26.2,-23.5,
    -24.7,-22.2,-25.1,-23.4,-21.6,-24.0,-26.4,-22.7,-25.7,-23.1,-21.1,-24.8,-22.5,-25.4,-23.7,-21.8,-24.3,-26.1,-22.1,-23.9,
    -25.8,-23.3,-22.0,-24.5,-21.5,-25.0,-23.6,-22.9,-26.3,-24.1,-21.9,-23.0,-25.5,-22.4,-24.6,-21.2,-25.2,-23.8,-22.6,-24.9,
    -23.2,-21.7,-24.2,-25.9,-22.3,-23.7,-26.0,-21.3,-24.7,-22.8,-25.3,-23.5,-21.6,-24.4,-26.2,-22.1,-23.1,-25.6,-24.0,-22.5,
    -24.3,-26.4,-22.6,-23.8,-21.4,-25.1,-24.8,-22.2,-23.4,-25.7,-21.8,-24.5,-22.9,-26.1,-23.6,-21.0,-25.4,-24.1,-22.4,-23.0,
]
core_inner_y = [
    1.4,-3.6,5.8,-7.2,0.3,3.9,-1.8,8.1,-5.0,2.6,-0.6,6.7,-8.4,-2.9,4.5,0.9,-6.3,7.4,-4.1,1.8,
    -2.4,6.1,-0.2,-5.6,3.2,8.7,-7.7,1.0,-3.3,5.1,-1.2,-8.9,4.0,2.0,-6.8,0.5,7.0,-4.4,3.6,-1.5,
    4.8,-0.9,2.9,-6.0,7.8,-2.2,0.0,-4.9,6.4,-7.5,1.6,3.3,-1.0,8.4,-5.3,2.4,-3.0,5.5,-8.1,0.7,
    -5.9,2.2,7.6,-1.4,-3.8,4.3,-7.0,1.2,5.3,-0.4,-8.6,3.0,6.9,-2.6,0.6,-4.7,8.9,-6.5,2.7,-1.1,
    3.5,-7.9,0.8,6.0,-2.0,-5.2,4.6,-0.3,8.3,-6.6,2.3,-3.4,-1.6,5.0,7.2,-8.0,1.1,-4.3,3.8,-0.7,
    -1.3,5.6,-6.2,2.1,8.0,-3.1,-0.1,6.5,-7.3,3.4,-4.6,1.5,-2.7,7.7,-5.7,0.4,4.1,-8.8,2.8,-0.5,
    6.3,-4.0,1.9,-7.6,3.1,-0.8,-5.4,7.9,0.2,-2.3,4.9,-6.9,2.5,-1.7,8.6,-3.9,5.9,0.1,-8.3,3.7,
    -3.7,0.9,7.3,-5.1,1.7,-8.2,4.4,-1.9,6.6,-0.2,2.0,-6.1,3.3,-4.8,0.6,-2.5,5.4,-7.4,8.2,-1.4,
]

# outer ring of the spot
spot_outer_x = [
    -28.4,-20.7,-25.1,-30.2,-22.6,-26.9,-19.5,-24.0,-29.5,-21.8,-27.3,-23.2,-30.8,-25.7,-20.1,-28.9,-22.9,-26.2,-19.9,-24.6,
    -23.7,-29.8,-21.2,-26.5,-30.5,-24.3,-19.3,-27.9,-22.1,-25.4,-29.1,-20.5,-26.0,-23.9,-30.0,-21.5,-28.1,-24.9,-19.7,-27.0,
    -26.7,-22.3,-30.9,-24.8,-20.9,-28.6,-23.4,-25.9,-19.2,-29.3,-21.9,-27.6,-24.2,-30.3,-22.7,-26.3,-20.3,-28.3,-25.2,-23.0,
    -20.6,-27.1,-24.5,-29.7,-22.0,-25.6,-30.6,-23.6,-21.0,-28.0,-26.1,-19.4,-24.7,-29.0,-22.4,-27.4,-20.8,-25.3,-30.1,-23.3,
    -29.2,-24.1,-20.2,-26.8,-22.8,-30.4,-25.0,-21.4,-28.5,-23.8,-19.6,-27.2,-24.4,-29.9,-21.7,-26.4,-23.1,-28.8,-20.0,-25.5,
    -22.2,-28.2,-25.8,-19.8,-30.7,-23.5,-27.7,-21.3,-26.6,-24.9,-29.4,-20.4,-25.3,-22.5,-28.7,-24.0,-30.2,-21.6,-27.0,-23.9,
    -25.6,-20.1,-29.6,-23.0,-26.9,-21.1,-28.4,-24.5,-19.5,-27.5,-22.6,-30.0,-25.1,-20.7,-28.0,-23.7,-26.2,-21.9,-29.1,-24.2,
    -27.8,-23.4,-21.0,-29.0,-24.8,-20.5,-26.7,-22.9,-30.5,-25.4,-19.9,-28.6,-23.1,-26.4,-21.4,-29.8,-24.6,-20.2,-27.3,-22.0,
    -21.5,-26.0,-30.3,-22.4,-28.1,-25.0,-19.3,-27.6,-23.6,-29.5,-21.2,-25.7,-24.1,-30.9,-22.8,-27.9,-20.6,-26.5,-23.3,-28.9,
    -24.7,-29.3,-22.1,-27.1,-20.3,-25.9,-28.3,-23.8,-21.7,-30.1,-26.8,-24.3,-19.7,-28.5,-22.7,-25.2,-29.7,-21.1,-27.4,-23.5,
    -30.6,-22.9,-26.3,-20.9,-28.7,-24.4,-21.6,-27.0,-25.5,-19.4,-29.2,-23.2,-26.6,-22.2,-30.4,-24.9,-20.0,-28.2,-25.8,-21.8,
    -23.1,-27.5,-19.6,-25.3,-29.9,-22.5,-26.1,-20.8,-28.8,-24.0,-30.7,-21.3,-27.8,-23.7,-25.6,-19.8,-29.4,-22.3,-26.9,-24.6,
    -26.2,-21.4,-28.6,-24.2,-22.0,-30.2,-25.7,-20.4,-27.3,-23.4,-29.0,-21.9,-25.0,-28.1,-20.7,-26.7,-23.9,-30.0,-22.6,-27.7,
    -28.0,-24.5,-20.6,-29.6,-23.0,-26.5,-21.5,-27.9,-25.1,-19.5,-28.4,-22.8,-30.8,-24.8,-21.0,-26.0,-29.1,-23.6,-20.3,-25.4,
    -22.7,-29.5,-25.9,-21.2,-27.2,-24.1,-30.3,-20.1,-26.8,-23.3,-28.5,-22.1,-25.2,-29.7,-24.7,-19.3,-27.6,-21.6,-26.3,-23.8,
]
spot_outer_y = [
    9.4,-12.7,3.8,-6.1,14.2,-2.5,7.6,-15.3,0.9,-9.0,11.8,-4.4,6.2,-13.6,2.1,-7.8,15.5,-1.2,10.3,-10.9,
    -5.3,12.9,-14.8,1.6,-8.3,6.9,-11.6,4.3,-3.4,15.0,-7.1,9.8,-0.4,-13.0,8.1,-2.9,13.5,-9.7,5.5,-15.8,
    2.7,-8.8,11.3,-4.0,7.2,-14.1,0.2,-6.6,13.9,-11.0,4.9,-1.7,9.1,-15.1,3.3,-5.8,12.1,-10.2,6.8,-3.0,
    -12.3,5.1,-0.8,14.6,-9.5,3.0,-6.9,10.7,-14.4,1.4,-4.7,8.5,-11.9,15.7,-2.2,6.4,-8.0,12.6,-13.2,0.5,
    7.9,-3.6,13.1,-10.6,2.5,-15.6,9.6,-0.1,-7.4,11.5,-13.8,4.0,-5.0,14.9,-1.0,8.8,-12.0,3.6,-9.2,10.0,
    -1.5,10.9,-8.6,6.0,-12.8,13.7,-3.9,1.2,-15.0,7.3,-6.3,12.3,-10.4,2.9,-0.6,15.2,-7.6,5.8,-14.3,9.2,
    12.8,-6.7,0.0,-11.3,8.3,-2.0,14.0,-9.9,5.3,-13.4,10.5,-4.9,1.9,-8.1,13.2,-15.4,6.6,-0.9,-10.8,4.6,
    -9.8,3.5,-14.6,11.0,-5.7,8.7,-1.3,15.4,-12.5,0.7,-7.0,5.9,-3.2,12.4,-15.9,9.9,-4.2,14.3,-8.4,2.0,
    5.7,-11.7,9.7,-2.7,13.3,-6.5,3.1,-14.0,11.2,-0.3,-9.3,7.0,-12.1,1.0,15.9,-4.5,8.0,-13.1,4.7,-7.3,
    -14.9,1.8,-5.5,12.0,-10.0,7.7,-2.4,14.8,-8.9,4.1,-13.5,10.1,-0.5,6.3,-11.1,2.8,-6.0,13.0,-15.2,8.9,
    11.6,-7.9,4.4,-13.9,0.6,-3.1,15.1,-10.7,6.1,-1.9,9.3,-14.7,3.9,-6.4,12.2,-9.1,1.5,-12.6,7.4,-4.8,
    -3.3,14.4,-10.3,8.2,-1.1,-15.5,5.0,-8.5,11.4,-5.9,2.3,-12.2,13.6,-0.2,9.5,-7.5,4.8,-14.5,1.1,10.8,
    6.5,-13.3,2.6,-9.6,15.3,-4.1,10.6,-11.5,0.4,-6.8,13.8,-2.1,7.5,-15.7,3.4,-8.7,11.9,-1.6,-10.5,5.2,
    -8.2,9.0,-15.1,4.5,-2.6,12.5,-11.4,0.8,-6.2,14.1,-9.4,6.7,-13.7,1.7,-4.3,10.4,-0.7,-12.9,8.6,-5.6,
    13.4,-1.4,7.1,-10.1,3.7,-14.2,9.8,-5.2,15.6,-8.0,2.2,-11.8,5.6,-3.8,12.7,-7.2,0.1,-13.6,11.1,-2.3,
]

# wider halo around the spot
halo_x = [
    -36.8,-33.2,-30.5,-28.1,-35.4,-31.9,-19.6,-34.1,-29.3,-37.5,-32.6,-21.2,-27.4,-35.9,-30.0,-18.4,-33.8,-26.2,-36.3,-31.3,
    -29.7,-34.6,-20.3,-37.1,-32.0,-27.8,-35.0,-22.0,-30.8,-33.5,-19.0,-36.0,-28.6,-31.6,-23.4,-34.9,-29.0,-37.8,-20.8,-32.9,
    -33.0,-28.4,-36.5,-21.5,-31.0,-34.4,-18.8,-29.9,-35.7,-26.8,-32.3,-37.3,-20.0,-30.3,-33.9,-27.1,-36.9,-22.6,-31.7,-35.2,
    -35.6,-30.1,-24.2,-33.6,-37.0,-19.3,-28.9,-32.4,-35.3,-21.8,-30.6,-34.0,-27.6,-36.6,-18.1,-31.4,-29.2,-33.1,-20.6,-37.7,
    -31.5,-36.2,-22.9,-28.2,-34.7,-19.9,-32.8,-30.4,-37.4,-25.3,-33.3,-29.5,-35.8,-21.0,-31.1,-27.3,-34.3,-18.6,-36.4,-30.7,
    -34.2,-29.6,-37.9,-20.5,-32.1,-35.5,-26.0,-30.9,-33.7,-19.4,-28.0,-36.1,-31.8,-23.0,-34.8,-29.1,-37.2,-21.4,-32.5,-35.1,
    -30.2,-35.0,-21.1,-33.4,-28.7,-36.7,-19.8,-31.2,-34.5,-27.0,-32.7,-37.6,-22.4,-29.8,-35.7,-18.9,-33.0,-30.5,-36.8,-24.8,
    -37.3,-31.9,-28.5,-34.9,-20.1,-32.2,-36.0,-29.4,-33.6,-22.8,-30.0,-35.4,-27.9,-19.2,-34.1,-31.5,-37.0,-21.7,-28.8,-33.3,
    -32.4,-36.5,-29.3,-19.7,-35.2,-30.8,-26.5,-33.8,-37.4,-21.3,-31.0,-34.6,-28.3,-20.9,-36.2,-32.0,-18.3,-29.7,-35.8,-23.8,
    -35.3,-28.2,-33.1,-20.4,-37.2,-30.3,-34.4,-22.2,-31.6,-36.9,-27.5,-19.5,-32.9,-29.0,-35.9,-21.6,-33.9,-30.6,-18.7,-34.7,
]
halo_y = [
    12.4,-8.7,17.1,-14.2,6.3,-19.5,10.8,-4.9,15.6,-11.3,20.2,-16.8,8.1,-6.2,13.9,-21.0,4.7,-9.8,18.3,-13.1,
    -17.4,9.2,-5.6,14.8,-12.0,7.5,-20.6,16.2,-3.8,11.6,-15.3,5.4,-9.1,19.7,-7.0,13.0,-18.9,3.9,-11.8,21.3,
    7.9,-13.6,19.0,-6.8,15.2,-10.4,4.2,-17.9,11.1,-22.0,8.8,-5.1,16.6,-14.7,12.7,-8.2,20.8,-3.5,-16.1,9.6,
    -10.9,18.5,-7.7,5.0,-15.8,13.5,-19.2,9.9,-4.4,17.5,-12.6,6.7,-21.5,14.3,-8.9,3.6,-13.9,11.9,-6.5,16.9,
    14.0,-5.3,10.2,-18.2,7.1,-11.5,21.8,-9.4,4.5,-16.4,12.9,-7.3,18.8,-13.4,6.0,-20.1,15.0,-4.2,9.4,-14.9,
    -6.6,16.0,-12.3,3.4,-19.9,11.4,-8.0,13.7,-15.1,7.7,-4.7,20.5,-10.1,5.8,-17.0,9.0,-22.4,14.6,-3.3,12.2,
    19.3,-9.5,6.9,-13.0,15.9,-17.6,4.0,-7.6,12.0,-20.8,8.4,-5.9,17.8,-11.0,10.5,-15.6,3.2,-18.6,13.3,-8.5,
    -14.4,7.3,-21.2,17.3,-6.1,10.0,-12.8,4.8,-16.7,14.9,-9.2,19.5,-4.0,11.7,-18.0,6.5,-10.7,15.4,-7.4,21.0,
    5.2,-15.4,13.1,-8.4,20.0,-5.5,9.7,-19.0,16.4,-11.7,3.7,-13.8,7.0,-17.2,12.5,-6.9,18.1,-9.9,-21.8,14.1,
    -11.4,4.4,-18.4,10.7,-7.9,16.7,-14.0,21.6,-5.0,8.6,-20.3,13.6,-9.6,6.1,-16.3,19.8,-3.9,11.2,-12.9,8.0,
]

# second set of halo hits, reaching a little further out
halo_far_x = [
    -37.2,-34.0,-30.6,-27.5,-24.1,-20.8,-18.0,-35.6,-32.3,-29.1,-25.8,-22.5,-19.2,-36.9,-33.4,-30.0,-26.7,-23.3,-20.0,-17.4,
    -33.0,-29.7,-26.3,-23.0,-19.6,-37.8,-34.6,-31.3,-28.0,-24.7,-21.4,-18.3,-36.1,-32.8,-29.4,-26.1,-22.8,-19.4,-35.0,-31.7,
    -28.6,-25.2,-21.9,-18.6,-37.4,-34.2,-30.8,-27.6,-24.3,-21.0,-17.7,-35.9,-32.5,-29.2,-25.9,-22.6,-19.3,-36.6,-33.2,-30.1,
    -24.8,-21.5,-18.2,-36.3,-33.1,-29.9,-26.5,-23.2,-19.9,-37.6,-34.4,-31.0,-27.8,-24.5,-21.2,-17.9,-35.3,-32.0,-28.7,-25.4,
    -20.6,-17.5,-35.8,-32.6,-29.3,-26.0,-22.7,-19.5,-37.0,-33.7,-30.4,-27.2,-23.9,-20.5,-36.4,-33.0,-29.8,-26.6,-23.4,-20.1,
    -36.0,-32.9,-29.5,-26.2,-22.9,-19.7,-37.5,-34.3,-31.1,-27.7,-24.4,-21.1,-17.8,-35.5,-32.2,-28.9,-25.6,-22.3,-19.0,-36.8,
    -31.6,-28.3,-25.0,-21.7,-18.4,-37.1,-33.8,-30.5,-27.3,-24.0,-20.7,-17.6,-35.2,-31.9,-28.6,-25.3,-22.0,-18.8,-36.5,-33.3,
    -27.9,-24.6,-21.3,-18.1,-35.7,-32.4,-29.2,-25.8,-22.4,-19.1,-37.3,-34.1,-30.9,-27.5,-24.2,-20.9,-17.3,-36.2,-32.7,-29.6,
    -23.6,-20.3,-17.8,-36.7,-33.5,-30.2,-26.9,-23.7,-20.4,-37.9,-34.7,-31.4,-28.2,-24.9,-21.6,-18.5,-35.4,-32.1,-29.0,-25.7,
    -19.8,-37.7,-34.5,-31.2,-27.4,-24.2,-21.0,-17.6,-36.3,-33.1,-29.9,-26.4,-23.1,-19.6,-35.1,-31.8,-28.5,-25.1,-21.8,-18.7,
]
halo_far_y = [
    17.2,-21.4,9.8,-14.6,22.8,-6.3,13.5,-18.9,5.1,-24.2,19.6,-10.8,15.1,-3.9,-19.7,11.4,-16.3,23.7,-8.1,6.9,
    -12.5,20.4,-4.8,16.8,-22.6,7.6,-17.4,24.5,-9.3,13.0,-20.8,3.7,-15.5,18.3,-7.0,21.9,-13.2,10.3,-23.8,15.7,
    23.1,-8.8,14.1,-19.3,4.6,-25.0,11.9,-15.8,19.2,-5.7,17.6,-11.6,8.4,-21.1,25.3,-3.2,12.8,-17.9,6.0,-22.9,
    -18.2,6.4,-23.5,12.2,-9.7,21.2,-14.1,3.0,-20.3,16.5,-6.9,24.0,-11.0,18.7,-2.8,-16.7,9.1,-24.6,14.8,-7.8,
    10.9,-15.0,20.9,-4.1,16.0,-21.8,7.3,-12.8,24.8,-8.5,13.9,-19.1,2.6,-23.2,18.0,-10.4,22.3,-5.3,11.7,-17.1,
    -6.6,24.3,-16.9,9.4,-12.0,19.9,-22.1,5.6,-9.0,15.4,-25.3,12.5,-3.5,20.6,-14.4,7.9,-19.8,17.0,-10.9,23.4,
    15.9,-11.2,4.2,-20.0,22.0,-7.4,17.9,-24.8,10.6,-13.9,6.2,-18.5,21.5,-2.4,13.3,-22.3,8.7,-15.2,25.1,-9.6,
    -21.6,11.1,-8.3,18.6,-16.0,2.2,-24.0,14.6,-5.5,23.9,-12.3,9.6,-19.4,16.3,-3.0,20.2,-13.7,7.1,-25.1,12.0,
    8.2,-17.7,23.0,-10.0,14.9,-23.4,4.9,-14.9,19.5,-6.1,11.6,-21.2,17.4,-8.9,24.1,-4.4,15.6,-18.0,3.4,-12.1,
    -15.3,19.0,-2.0,-22.7,10.1,-9.9,21.7,-17.3,6.7,-11.8,25.0,-6.4,13.6,-20.6,8.5,-24.4,16.1,-1.8,-14.0,22.5,
]

# moderate density left of the spot and on its right flank
mid_x = [
    -38.2,-36.9,-35.3,-34.0,-32.6,-31.2,-29.8,-28.5,-37.6,-36.2,-34.8,-33.3,-31.9,-30.4,-29.1,-38.5,-37.0,-35.6,-34.3,-32.9,
    -31.5,-30.1,-28.8,-37.9,-36.5,-35.0,-33.6,-32.2,-30.7,-29.4,-38.0,-36.7,-35.2,-33.9,-32.4,-31.0,-29.6,-28.3,-37.3,-35.9,
    -34.5,-33.0,-31.7,-30.2,-28.9,-37.7,-36.3,-34.9,-33.4,-32.0,-30.6,-29.2,-38.3,-36.8,-35.4,-34.1,-32.7,-31.3,-29.9,-28.6,
    -20.8,-19.6,-18.4,-17.3,-20.1,-19.0,-17.9,-16.8,-20.5,-18.7,-17.6,-19.3,-20.9,-18.1,-16.9,-19.8,-17.1,-20.3,-18.9,-17.5,
    -20.6,-19.1,-18.2,-17.7,-20.0,-19.5,-18.6,-17.0,-20.4,-18.0,-19.9,-17.4,-20.7,-18.5,-16.6,-19.4,-17.8,-20.2,-18.8,-19.7,
]
mid_y = [
    4.2,-5.8,7.1,-3.6,9.3,-7.4,3.1,-8.9,-4.5,6.2,-9.7,5.0,-3.2,8.4,-6.1,3.7,-4.0,9.8,-7.9,4.6,
    -5.3,7.7,-3.9,-8.2,3.4,-6.7,8.9,-4.8,5.6,-9.1,6.8,-3.4,4.9,-7.0,3.0,-5.5,10.1,-4.3,8.0,-6.4,
    3.5,-9.4,7.3,-3.7,5.3,-5.0,9.0,-8.6,4.0,-3.1,6.5,-7.7,-3.0,5.8,-4.6,8.6,-6.0,3.9,-8.0,4.4,
    3.1,-5.4,1.2,-2.6,7.3,-0.8,4.6,-6.9,-3.3,8.1,-1.7,5.7,-7.8,2.4,-4.2,0.5,6.2,-5.9,-2.1,3.8,
    -8.5,1.9,-0.3,6.7,-4.7,9.2,-1.1,2.9,4.1,-6.3,-9.6,0.9,10.4,-3.0,-1.9,7.6,-7.1,-2.5,5.1,-10.2,
]

# isolated hits
stray_x = [-26.5,-14.3,-29.6,-26.2,-8.9,-10.0,-9.6,-35.1,-26.2,-29.8,-23.4,-18.3,-14.2,-15.3,
           -14.5,-13.9,-14.6,-17.1,-17.0,-17.8,-18.3,-31.8,-30.2,-30.2,-34.4,-33.2,-29.1,-28.4,
           -27.8,-25.8,-25.1,-23.4,-22.8,-20.4,-21.8,-37.0,-35.5,-36.6,-34.5,-33.9,-34.9,-32.2,
           -28.5,-27.4,-24.8,-24.0,-26.2,-22.9,-20.9,-30.7,-29.0,-25.9]
stray_y = [38.7,35.3,32.1,30.1,9.9,-7.2,-12.0,-40.3,-41.2,-29.8,-29.3,-24.5,1.6,-0.6,
           -2.1,-3.4,-6.1,20.1,17.8,16.7,12.5,27.4,28.5,26.6,24.2,25.1,25.3,24.0,
           26.2,26.5,24.7,25.7,25.7,25.3,22.5,20.3,20.8,-22.5,-22.8,-22.8,-25.5,-24.4,
           -26.2,-26.4,-26.8,-26.0,-25.2,-21.6,-21.4,-19.3,-18.9,-19.8]

fig = plt.figure(figsize=(15.12, 9.15), dpi=100, facecolor='white')
# grey window frame on the top and left
fig.patches.append(Rectangle((0, 1 - 6 / 915), 1, 6 / 915, transform=fig.transFigure,
                             facecolor='#efefe8', edgecolor='none', zorder=-5))
fig.patches.append(Rectangle((0, 0), 8 / 1512, 1, transform=fig.transFigure,
                             facecolor='#efefe8', edgecolor='none', zorder=-5))

ax = fig.add_axes([125 / 1512, 1 - 824 / 915, 1362 / 1512, 749 / 915])

for x0, x1, y0, y1 in faces:
    ax.add_patch(Rectangle((x0, y0), x1 - x0, y1 - y0, facecolor='#ff0000',
                           edgecolor='black', linewidth=1.0, zorder=1))

groups = [(band_x, band_y), (band_edge_x, band_edge_y), (gap_loose_x, gap_loose_y),
          (gap_dense_x, gap_dense_y), (core_band_x, core_band_y), (edge_x, edge_y),
          (face2_band_x, face2_band_y), (mid_x, mid_y), (halo_x, halo_y),
          (halo_far_x, halo_far_y), (spot_outer_x, spot_outer_y),
          (core_x, core_y), (core_inner_x, core_inner_y), (stray_x, stray_y)]
for gx, gy in groups:
    ax.plot(gx, gy, 'x', color='#0000ff', markersize=4.6, markeredgewidth=1.0,
            linestyle='none', zorder=2)

ax.set_xlim(-164.75, 10.0)
ax.set_ylim(-70, 70)
ax.set_xticks(x_ticks)
ax.set_yticks(y_ticks)
ax.tick_params(direction='in', length=10, width=0.8, labelsize=21, pad=7, colors='black')
for side in ['top', 'right']:
    ax.spines[side].set_visible(False)
ax.spines['left'].set_color('#333333')
ax.spines['bottom'].set_color('#222222')
ax.spines['bottom'].set_linewidth(1.3)

ax.set_xlabel("X [mm]", fontsize=21, labelpad=6)
ax.set_ylabel("Y [mm]", fontsize=21, labelpad=8)
fig.text(0.5316, 1 - 40 / 915, title, ha='center', va='center', fontsize=22)

t = ax.text(-100.0, 64.1, total_text, ha='left', va='center', fontsize=14.5,
            fontweight='bold')
t.set_clip_box(TransformedBbox(Bbox([[-200, -100], [-40.0, 100]]), ax.transData))
t.set_clip_on(True)
for lab, lx in zip(power_labels, power_label_x):
    ax.text(lx, 58.1, lab, ha='left', va='center', fontsize=14.5, fontweight='bold')

fig.savefig('out.png', dpi=100)
